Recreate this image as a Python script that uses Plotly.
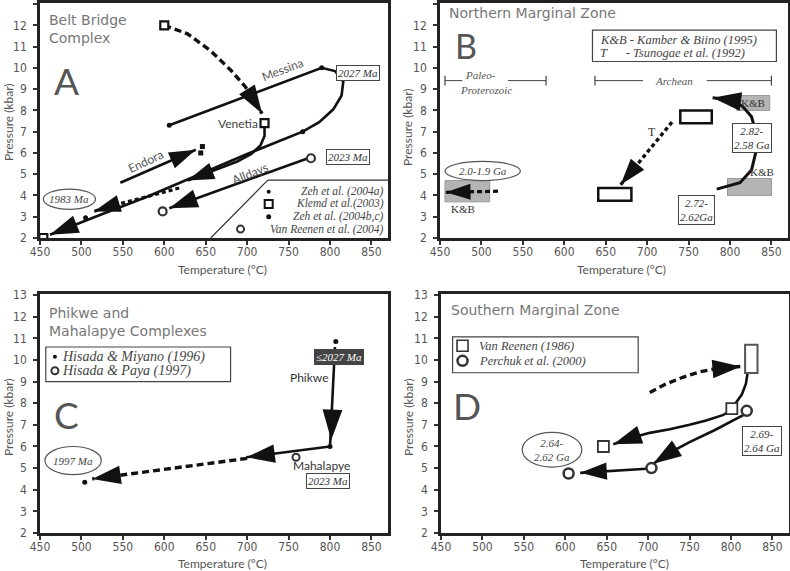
import plotly.graph_objects as go

# ---------------- Panel A : Belt Bridge Complex ----------------
A_klemd_T = [600, 628, 656, 680, 698, 718]
A_klemd_P = [12.0, 11.6, 10.8, 9.9, 9.1, 7.85]
A_mes_T = [606, 790, 806, 816, 814, 804, 787, 767, 700, 640, 580, 520, 462]
A_mes_P = [7.3, 10.0, 9.85, 9.35, 8.7, 8.05, 7.45, 7.0, 5.95, 4.95, 3.95, 3.05, 2.15]
A_ven_T = [721, 721, 716, 705, 688, 668, 648, 628]
A_ven_P = [7.3, 6.8, 6.35, 5.95, 5.6, 5.3, 5.0, 4.7]
A_d83_T = [618, 600, 580, 560, 540, 515]
A_d83_P = [4.35, 4.15, 3.95, 3.75, 3.55, 3.25]
A_end_T = [547, 638]
A_end_P = [4.6, 6.15]
A_all_T = [777, 606]
A_all_P = [5.8, 3.4]
A_zeh_T = [606, 790, 767, 505]
A_zeh_P = [7.3, 10.0, 7.0, 2.95]
A_sq_T = [600, 721, 454]
A_sq_P = [12.0, 7.4, 2.0]
A_vr_T = [777, 598]
A_vr_P = [5.75, 3.25]
A_zb_T = [646, 644]
A_zb_P = [6.3, 6.0]
A_leg_T = [656, 725, 875]
A_leg_P = [2.0, 4.72, 4.72]

# ---------------- Panel B : Northern Marginal Zone ----------------
B_rect_T0 = [740, 641]
B_rect_T1 = [778, 681]
B_rect_P0 = [7.4, 3.75]
B_rect_P1 = [8.0, 4.35]
B_kb_T0 = [808, 797, 456]
B_kb_T1 = [848, 850, 510]
B_kb_P0 = [8.0, 4.0, 3.7]
B_kb_P1 = [8.7, 4.8, 4.7]
B_T_T = [730, 668]
B_T_P = [7.45, 4.5]
B_curve_T = [784, 812, 826, 831, 831, 826, 815, 798, 779]
B_curve_P = [4.3, 4.6, 5.2, 6.0, 7.0, 7.7, 8.2, 8.5, 8.6]
B_left_T = [520, 457]
B_left_P = [4.2, 4.15]
B_paleo_T = [[456, 477], [532, 578]]
B_arch_T = [[637, 695], [772, 850]]
B_range_P = 9.4

# ---------------- Panel C : Phikwe and Mahalapye ----------------
C_phi_T = [806, 800]
C_phi_P = [10.6, 6.0]
C_phi_tip_T = [806, 801.5]
C_phi_tip_P = [10.6, 6.3]
C_mid_T = [800, 699]
C_mid_P = [6.0, 5.5]
C_dash_T = [700, 650, 600, 550, 513]
C_dash_P = [5.45, 5.2, 4.95, 4.7, 4.5]
C_hm_T = [807, 800, 504]
C_hm_P = [10.85, 6.0, 4.35]
C_hp_T = [759]
C_hp_P = [5.5]

# ---------------- Panel D : Southern Marginal Zone ----------------
D_big_T = [817, 832]
D_big_P = [9.4, 10.7]
D_dash_T = [702, 722, 742, 762, 782, 812]
D_dash_P = [8.5, 8.9, 9.2, 9.45, 9.6, 9.7]
D_a1_T = [820, 818, 813, 806, 800]
D_a1_P = [9.4, 8.9, 8.4, 8.0, 7.7]
D_a2_T = [800, 790, 770, 750, 726, 702, 680, 658]
D_a2_P = [7.65, 7.45, 7.2, 7.0, 6.8, 6.63, 6.4, 6.1]
D_a3_T = [817, 807, 780, 750, 728, 706]
D_a3_P = [7.5, 7.3, 6.75, 6.2, 5.75, 5.2]
D_a4_T = [698, 618]
D_a4_P = [4.97, 4.78]
D_sq_T = [801, 646]
D_sq_P = [7.75, 6.0]
D_ci_T = [819, 704, 604]
D_ci_P = [7.65, 5.0, 4.75]

# ---------------- axes ----------------
X_TICKS = [450, 500, 550, 600, 650, 700, 750, 800, 850]
Y_TICKS = [2, 3, 4, 5, 6, 7, 8, 9, 10, 11, 12, 13]

W, H = 790, 571
SANS = "Lato, 'Noto Sans', sans-serif"
TITLE = "'DejaVu Sans', sans-serif"
COND = "'Liberation Sans Narrow', 'DejaVu Sans Condensed', 'Roboto Condensed', sans-serif"
SERIF = "'Liberation Serif', 'DejaVu Serif', serif"
INK = "#111"

panels = {
    "A": dict(x="x", y="y", xd=[40 / W, 388 / W], yd=[1 - 238 / H, 1 - 3 / H]),
    "B": dict(x="x2", y="y2", xd=[440 / W, 788 / W], yd=[1 - 238 / H, 1 - 3 / H]),
    "C": dict(x="x3", y="y3", xd=[40 / W, 388 / W], yd=[1 - 533 / H, 1 - 294 / H]),
    "D": dict(x="x4", y="y4", xd=[441 / W, 789 / W], yd=[1 - 533 / H, 1 - 294 / H]),
}

fig = go.Figure()
layout_axes = {}
for k, p in panels.items():
    xn = "xaxis" + p["x"][1:]
    yn = "yaxis" + p["y"][1:]
    common = dict(showgrid=False, zeroline=False, showline=True, mirror=True,
                  automargin=False,
                  linewidth=2.5, linecolor="#222", ticks="outside", ticklen=4,
                  tickwidth=1.5, tickcolor="#333",
                  tickfont=dict(family=COND, size=12, color="#555"))
    layout_axes[xn] = dict(domain=p["xd"], anchor=p["y"], range=[450, 870],
                           tickvals=X_TICKS, ticklabelstandoff=-3, **common)
    layout_axes[yn] = dict(domain=p["yd"], anchor=p["x"], range=[2, 13.05],
                           tickvals=Y_TICKS, ticklabelstandoff=4, **common)


def line(p, T, P, dash=None, width=2.6, color=INK):
    fig.add_trace(go.Scatter(x=T, y=P, xaxis=panels[p]["x"], yaxis=panels[p]["y"],
                             mode="lines", line=dict(color=color, width=width,
                                                     dash=dash),
                             hoverinfo="skip"))


def head(p, T, P, size=28):
    fig.add_trace(go.Scatter(x=T[-2:], y=P[-2:], xaxis=panels[p]["x"],
                             yaxis=panels[p]["y"], mode="markers",
                             marker=dict(symbol="arrow", size=[0, size],
                                         angleref="previous", color=INK,
                                         opacity=1, line=dict(width=0)),
                             hoverinfo="skip"))


def pts(p, T, P, symbol, size, fill=INK, lw=0, lc=INK):
    fig.add_trace(go.Scatter(x=T, y=P, xaxis=panels[p]["x"], yaxis=panels[p]["y"],
                             mode="markers",
                             marker=dict(symbol=symbol, size=size, color=fill,
                                         opacity=1,
                                         line=dict(width=lw, color=lc)),
                             hoverinfo="skip"))


DASH = "7px,4px"

# ---- Panel A marks
line("A", A_klemd_T, A_klemd_P, dash=DASH, width=3.4)
head("A", A_klemd_T, A_klemd_P, 30)
line("A", A_mes_T, A_mes_P)
head("A", A_mes_T, A_mes_P, 30)
line("A", A_ven_T, A_ven_P)
head("A", A_ven_T, A_ven_P, 28)
line("A", A_d83_T, A_d83_P, dash="4px,3px", width=3.2)
head("A", A_d83_T, A_d83_P, 28)
line("A", A_end_T, A_end_P)
head("A", A_end_T, A_end_P, 28)
line("A", A_all_T, A_all_P)
head("A", A_all_T, A_all_P, 30)
line("A", A_leg_T, A_leg_P, width=1.2, color="#333")
pts("A", A_zeh_T, A_zeh_P, "circle", 5)
pts("A", A_zb_T, A_zb_P, "square", 5)
pts("A", A_sq_T, A_sq_P, "square", 8, fill="white", lw=2.2)
pts("A", A_vr_T, A_vr_P, "circle", 8, fill="white", lw=2.2, lc="#333")
# legend symbols
pts("A", [726], [4.18], "circle", 4)
pts("A", [726], [3.6], "square", 8, fill="white", lw=2)
pts("A", [726], [3.0], "circle", 5)
pts("A", [692], [2.42], "circle", 7, fill="white", lw=2, lc="#333")

# ---- Panel B marks
line("B", B_T_T, B_T_P, dash="4px,3px", width=3.4)
head("B", B_T_T, B_T_P, 28)
line("B", B_curve_T, B_curve_P, width=3)
head("B", B_curve_T, B_curve_P, 30)
line("B", B_left_T, B_left_P, dash="5px,3px", width=3.2)
head("B", B_left_T, B_left_P, 26)
for seg in B_paleo_T + B_arch_T:
    fig.add_trace(go.Scatter(x=seg, y=[B_range_P, B_range_P], xaxis="x2", yaxis="y2",
                             mode="lines", line=dict(color="#444", width=1),
                             hoverinfo="skip"))
pts("B", [B_paleo_T[0][0], B_paleo_T[1][1], B_arch_T[0][0], B_arch_T[1][1]],
    [B_range_P] * 4, "line-ns", 7, lw=1.2, lc="#444")

# ---- Panel C marks
line("C", C_phi_T, C_phi_P)
head("C", C_phi_tip_T, C_phi_tip_P, 32)
line("C", C_mid_T, C_mid_P)
head("C", C_mid_T, C_mid_P, 30)
line("C", C_dash_T, C_dash_P, dash=DASH, width=3.4)
head("C", C_dash_T, C_dash_P, 30)
pts("C", C_hm_T, C_hm_P, "circle", 5)
pts("C", C_hp_T, C_hp_P, "circle", 7, fill="white", lw=2, lc="#333")
pts("C", [468], [10.15], "circle", 4)
pts("C", [468], [9.5], "circle", 7, fill="white", lw=2, lc="#333")

# ---- Panel D marks
line("D", D_dash_T, D_dash_P, dash=DASH, width=3.4)
head("D", D_dash_T, D_dash_P, 30)
line("D", D_a1_T, D_a1_P)
line("D", D_a2_T, D_a2_P)
head("D", D_a2_T, D_a2_P, 30)
line("D", D_a3_T, D_a3_P)
head("D", D_a3_T, D_a3_P, 30)
line("D", D_a4_T, D_a4_P)
head("D", D_a4_T, D_a4_P, 28)
pts("D", D_sq_T, D_sq_P, "square", 11, fill="white", lw=1.8, lc="#333")
pts("D", D_ci_T, D_ci_P, "circle", 10, fill="white", lw=2.5, lc="#333")
pts("D", [476], [10.66], "square", 11, fill="white", lw=1.6, lc="#333")
pts("D", [476], [9.96], "circle", 10, fill="white", lw=2.5, lc="#333")

# ---------------- shapes ----------------
shapes = []


def rect(p, x0, x1, y0, y1, fill="white", lc=INK, lw=2.5, layer="above"):
    shapes.append(dict(type="rect", xref=panels[p]["x"], yref=panels[p]["y"],
                       x0=x0, x1=x1, y0=y0, y1=y1, fillcolor=fill,
                       line=dict(color=lc, width=lw), layer=layer))


def ellipse(p, x0, x1, y0, y1):
    shapes.append(dict(type="circle", xref=panels[p]["x"], yref=panels[p]["y"],
                       x0=x0, x1=x1, y0=y0, y1=y1, fillcolor="white",
                       line=dict(color="#555", width=1.2), layer="above"))


for i in range(3):
    rect("B", B_kb_T0[i], B_kb_T1[i], B_kb_P0[i], B_kb_P1[i], fill="#b4b4b4",
         lc="#999", lw=1, layer="below")
for i in range(2):
    rect("B", B_rect_T0[i], B_rect_T1[i], B_rect_P0[i], B_rect_P1[i])
rect("B", 634, 856, 10.3, 11.77, lc="#444", lw=1.2, layer="below")
rect("D", D_big_T[0], D_big_T[1], D_big_P[0], D_big_P[1], lc="#555", lw=2)
rect("D", 464, 688, 9.41, 11.07, lc="#444", lw=1.2, layer="below")
rect("C", 457, 680, 9.0, 10.6, lc="#444", lw=1.2, layer="below")
ellipse("A", 454, 517, 3.35, 4.3)
ellipse("B", 456, 547, 4.7, 5.6)
ellipse("C", 456, 524, 4.7, 6.0)
ellipse("D", 548, 620, 5.05, 6.65)

# ---------------- annotations ----------------
ann = []


def txt(p, T, P, s, size=12, color="#444", family=SERIF, xanchor="center",
        angle=0, **kw):
    ann.append(dict(xref=panels[p]["x"], yref=panels[p]["y"], x=T, y=P, text=s,
                    showarrow=False, xanchor=xanchor, yanchor="middle",
                    textangle=angle,
                    font=dict(family=family, size=size, color=color), **kw))


def box(p, T, P, s, size=11, bg="white", color="#333"):
    txt(p, T, P, "<i>" + s + "</i>", size=size, color=color, bgcolor=bg,
        bordercolor="#444", borderwidth=1, borderpad=1)


# panel titles / letters
txt("A", 458, 11.85, "Belt Bridge<br>Complex", size=14, color="#777", family=TITLE,
    xanchor="left", align="left")
txt("A", 482, 9.4, "A", size=37, color="#555", family=SANS)
txt("B", 458, 12.58, "Northern Marginal Zone", size=14, color="#777", family=TITLE,
    xanchor="left")
txt("B", 481, 11.05, "B", size=34, color="#555", family=SANS)
txt("C", 458, 11.75, "Phikwe and<br>Mahalapye Complexes", size=14, color="#777",
    family=TITLE, xanchor="left", align="left")
txt("C", 482, 7.5, "C", size=37, color="#555", family=SANS)
txt("D", 460, 12.32, "Southern Marginal Zone", size=14, color="#777", family=TITLE,
    xanchor="left")
txt("D", 481, 7.9, "D", size=37, color="#555", family=SANS)

# panel A labels
txt("A", 743, 9.9, "Messina", size=12, color="#555", family=SANS, angle=-21)
txt("A", 577, 5.6, "Endora", size=12, color="#555", family=SANS, angle=-25)
txt("A", 703, 5.05, "Alldays", size=12, color="#555", family=SANS, angle=-22)
txt("A", 716, 7.4, "Venetia", size=12, color="#444", family=SANS, xanchor="right")
box("A", 834, 9.75, "2027 Ma", size=11)
box("A", 822, 5.8, "2023 Ma", size=11)
txt("A", 485.5, 3.82, "<i>1983 Ma</i>", size=11)
for s, P in [("Zeh et al. (2004a)", 4.18), ("Klemd et al.(2003)", 3.6),
             ("Zeh et al. (2004b,c)", 3.0), ("Van Reenen et al. (2004)", 2.42)]:
    txt("A", 867, P, "<i>" + s + "</i>", size=11.5, xanchor="right")

# panel B labels
txt("B", 641, 11.33, "<i>K&amp;B - Kamber &amp; Biino (1995)</i>", size=12.5,
    xanchor="left")
txt("B", 641, 10.72, "<i>T\u00a0\u00a0\u00a0\u00a0\u00a0\u00a0- Tsunogae et al. (1992)</i>",
    size=12.5, xanchor="left")
txt("B", 499, 9.68, "<i>Paleo-</i>", size=11, color="#555")
txt("B", 505, 8.98, "<i>Proterozoic</i>", size=11, color="#555")
txt("B", 733, 9.4, "<i>Archean</i>", size=11, color="#555")
txt("B", 706, 7.0, "T", size=12, color="#333")
txt("B", 828, 8.35, "K&amp;B", size=11, color="#333")
txt("B", 839, 5.1, "K&amp;B", size=11, color="#333")
txt("B", 478, 3.35, "K&amp;B", size=11, color="#333")
box("B", 827, 6.7, "2.82-<br>2.58 Ga", size=11)
box("B", 760, 3.3, "2.72-<br>2.62Ga", size=11)
txt("B", 501.5, 5.15, "<i>2.0-1.9 Ga</i>", size=11)

# panel C labels
txt("C", 474, 10.15, "<i>Hisada &amp; Miyano (1996)</i>", size=14, xanchor="left")
txt("C", 474, 9.5, "<i>Hisada &amp; Paya (1997)</i>", size=14, xanchor="left")
txt("C", 775, 9.2, "Phikwe", size=12, color="#333", family=SANS)
txt("C", 790, 5.13, "Mahalapye", size=12, color="#333", family=SANS)
box("C", 811, 10.15, "\u22642027 Ma", size=11, bg="#444", color="white")
box("C", 798, 4.42, "2023 Ma", size=11)
txt("C", 490, 5.35, "<i>1997 Ma</i>", size=11)

# panel D labels
txt("D", 494, 10.66, "<i>Van Reenen (1986)</i>", size=12.5, xanchor="left")
txt("D", 494, 9.96, "<i>Perchuk et al. (2000)</i>", size=12.5, xanchor="left")
txt("D", 584, 5.85, "<i>2.64-<br>2.62 Ga</i>", size=11)
box("D", 838, 6.25, "2.69-<br>2.64 Ga", size=11)

# axis titles
AXF = dict(family=SANS, size=12, color="#555")
for xp, yp in [(8, 123), (407, 128), (8, 418), (408, 418)]:
    ann.append(dict(xref="paper", yref="paper", x=xp / W, y=1 - yp / H,
                    xanchor="center", yanchor="middle",
                    text="Pressure (kbar)", textangle=-90, showarrow=False,
                    font=AXF))
for xp, yp in [(222, 269), (621, 269), (222, 563), (624, 563)]:
    ann.append(dict(xref="paper", yref="paper", x=xp / W, y=1 - yp / H,
                    xanchor="center", yanchor="middle",
                    text="Temperature (\u00b0C)", showarrow=False, font=AXF))

fig.update_layout(template="none", width=W, height=H,
                  margin=dict(l=0, r=0, t=0, b=0, autoexpand=False),
                  paper_bgcolor="white", plot_bgcolor="white", showlegend=False,
                  shapes=shapes, annotations=ann, **layout_axes)
fig.write_html("out.html", config={"displayModeBar": False},
               post_script="document.body.style.margin='0px';"
                           "document.body.style.overflow='hidden';")
